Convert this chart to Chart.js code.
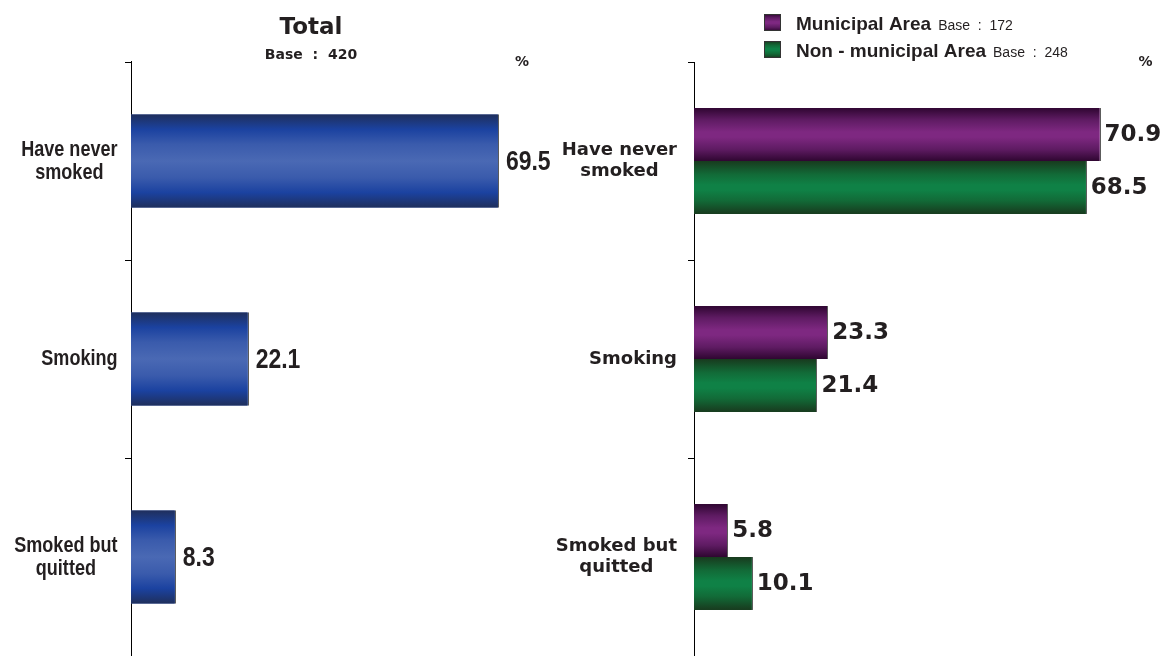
<!DOCTYPE html>
<html>
<head>
<meta charset="utf-8">
<script src="https://cdn.jsdelivr.net/npm/chart.js@4.4.0/dist/chart.umd.min.js"></script>
<style>
  html, body { margin: 0; padding: 0; background: #fff; }
  #wrap { position: relative; width: 1161px; height: 656px; overflow: hidden; }
  canvas { position: absolute; top: 0; }
  #totalChart { left: 0; }
  #areaChart { left: 540px; }
</style>
</head>
<body>
<div id="wrap">
  <canvas id="totalChart" width="622" height="656"></canvas>
  <canvas id="areaChart" width="621" height="656"></canvas>
</div>
<script>
const categories = [['Have never', 'smoked'], ['Smoking'], ['Smoked but', 'quitted']];
const totalValues = [69.5, 22.1, 8.3];
const municipalValues = [70.9, 23.3, 5.8];
const nonMunicipalValues = [68.5, 21.4, 10.1];
const totalBase = 420;
const municipalBase = 172;
const nonMunicipalBase = 248;
const totalMax = 93;
const areaMax = 80;

// bar shading, top edge -> bottom edge
const blueStops = [[0, '#1f2f5c'], [0.16, '#1b42a0'], [0.32, '#3a5bac'], [0.5, '#4a69b4'], [0.68, '#3a5bac'], [0.84, '#1b42a0'], [1, '#1f2f5c']];
const purpleStops = [[0, '#2f0631'], [0.22, '#5e1b62'], [0.45, '#7e2881'], [0.55, '#7e2881'], [0.78, '#5e1b62'], [1, '#2f0631']];
const greenStops = [[0, '#183a1e'], [0.25, '#126a37'], [0.45, '#0f8146'], [0.55, '#0f8146'], [0.75, '#126a37'], [1, '#183a1e']];

const textColor = '#231f20';
const arial = '"Liberation Sans", Arial, sans-serif';

function fillStops(ctx, top, bottom, stops) {
  const g = ctx.createLinearGradient(0, top, 0, bottom);
  stops.forEach(([o, c]) => g.addColorStop(o, c));
  return g;
}

// text squeezed horizontally (narrow face look)
function squeezedText(ctx, str, x, y, sx) {
  ctx.save();
  ctx.translate(x, y);
  ctx.scale(sx, 1);
  ctx.fillText(str, 0, 0);
  ctx.restore();
}

const surveyBars = {
  id: 'surveyBars',
  afterDatasetsDraw(chart, args, opts) {
    const ctx = chart.ctx;
    chart.data.datasets.forEach((ds, d) => {
      const meta = chart.getDatasetMeta(d);
      meta.data.forEach((bar, i) => {
        const p = bar.getProps(['x', 'y', 'base', 'height'], true);
        const top = p.y - p.height / 2;
        const bottom = p.y + p.height / 2;
        ctx.save();
        ctx.fillStyle = fillStops(ctx, top, bottom, ds.stops);
        ctx.fillRect(p.base, top, p.x - p.base, p.height);
        ctx.strokeStyle = '#5c5c5c';
        ctx.lineWidth = 1;
        ctx.beginPath();
        ctx.moveTo(Math.round(p.x) + 0.5, top);
        ctx.lineTo(Math.round(p.x) + 0.5, bottom);
        ctx.stroke();
        ctx.fillStyle = textColor;
        ctx.font = opts.valueFont;
        ctx.textAlign = 'left';
        ctx.textBaseline = 'middle';
        squeezedText(ctx, ds.data[i].toFixed(1), p.x + opts.valueGap, p.y + 1, opts.scaleX);
        ctx.restore();
      });
    });
  },
  afterDraw(chart, args, opts) {
    const ctx = chart.ctx;
    const yScale = chart.scales.y;
    ctx.save();
    ctx.fillStyle = textColor;
    ctx.textBaseline = 'middle';

    // category labels: lines centred on each other, block right-aligned to the axis
    ctx.font = opts.labelFont;
    ctx.textAlign = 'center';
    chart.data.labels.forEach((lines, i) => {
      const y = yScale.getPixelForTick(i);
      const w = Math.max(...lines.map(l => ctx.measureText(l).width)) * opts.scaleX;
      const cx = chart.chartArea.left - opts.labelGap - w / 2;
      const y0 = y - (lines.length - 1) * opts.labelLine / 2;
      lines.forEach((l, k) => squeezedText(ctx, l, cx, y0 + k * opts.labelLine, opts.scaleX));
    });

    // unit
    ctx.font = 'bold 14px "DejaVu Sans", sans-serif';
    ctx.fillText('%', opts.percent.x, opts.percent.y);

    // legend with base sizes
    if (opts.legend) {
      const lg = opts.legend;
      chart.data.datasets.forEach((ds, d) => {
        const top = lg.y + d * lg.row;
        ctx.fillStyle = fillStops(ctx, top, top + lg.box, ds.stops);
        ctx.fillRect(lg.x, top, lg.box, lg.box);
        ctx.strokeStyle = '#333';
        ctx.lineWidth = 1;
        ctx.strokeRect(lg.x + 0.5, top + 0.5, lg.box - 1, lg.box - 1);
        ctx.fillStyle = textColor;
        ctx.textAlign = 'left';
        ctx.textBaseline = 'alphabetic';
        ctx.font = 'bold 19px ' + arial;
        const tx = lg.x + lg.box + 15;
        ctx.fillText(ds.label, tx, top + 16);
        const w = ctx.measureText(ds.label).width;
        ctx.font = '14px ' + arial;
        ctx.fillText('Base  :  ' + ds.sampleBase, tx + w + 7, top + 16);
      });
    }
    ctx.restore();
  }
};

function yAxis(width) {
  return {
    type: 'category',
    grid: { display: true, drawOnChartArea: false, drawTicks: true, tickLength: 6, color: '#000', lineWidth: 1 },
    border: { display: true, color: '#000', width: 1 },
    ticks: { display: false },
    afterFit(scale) {
      scale.width = width;
      scale.paddingTop = 0;
      scale.paddingBottom = 0;
    }
  };
}

function xAxis(max) {
  return { type: 'linear', display: false, min: 0, max: max };
}

new Chart(document.getElementById('totalChart'), {
  type: 'bar',
  data: {
    labels: categories,
    datasets: [{
      label: 'Total',
      data: totalValues,
      stops: blueStops,
      backgroundColor: '#3a5bac',
      categoryPercentage: 0.47,
      barPercentage: 1
    }]
  },
  options: {
    indexAxis: 'y',
    responsive: false,
    animation: false,
    layout: { padding: 0 },
    scales: { x: xAxis(totalMax), y: yAxis(131) },
    plugins: {
      legend: { display: false },
      tooltip: { enabled: false },
      title: {
        display: true,
        text: 'Total',
        color: textColor,
        font: { family: '"DejaVu Sans", sans-serif', size: 23, weight: 'bold', lineHeight: 1.2 },
        padding: { top: 14, bottom: 1 }
      },
      subtitle: {
        display: true,
        text: 'Base  :  ' + totalBase,
        color: textColor,
        font: { family: '"DejaVu Sans", sans-serif', size: 14, weight: 'bold', lineHeight: 1 },
        padding: { top: 5.4, bottom: 0 }
      },
      surveyBars: {
        valueFont: 'bold 28px ' + arial,
        valueGap: 8,
        labelFont: 'bold 22px ' + arial,
        scaleX: 0.82,
        labelLine: 23,
        labelGap: 13.5,
        percent: { x: 522, y: 62 }
      }
    }
  },
  plugins: [surveyBars]
});

new Chart(document.getElementById('areaChart'), {
  type: 'bar',
  data: {
    labels: categories,
    datasets: [{
      label: 'Municipal Area',
      sampleBase: municipalBase,
      data: municipalValues,
      stops: purpleStops,
      backgroundColor: '#7e2881',
      categoryPercentage: 0.535,
      barPercentage: 1
    }, {
      label: 'Non - municipal Area',
      sampleBase: nonMunicipalBase,
      data: nonMunicipalValues,
      stops: greenStops,
      backgroundColor: '#0f8146',
      categoryPercentage: 0.535,
      barPercentage: 1
    }]
  },
  options: {
    indexAxis: 'y',
    responsive: false,
    animation: false,
    layout: { padding: { left: 0, right: 9.4, top: 62, bottom: 0 } },
    scales: { x: xAxis(areaMax), y: yAxis(154) },
    plugins: {
      legend: { display: false },
      tooltip: { enabled: false },
      surveyBars: {
        valueFont: 'bold 23px "DejaVu Sans", sans-serif',
        valueGap: 5,
        labelFont: 'bold 18px "DejaVu Sans", sans-serif',
        scaleX: 1,
        labelLine: 21,
        labelGap: 17,
        percent: { x: 605.5, y: 62 },
        legend: { x: 224, y: 14, row: 27, box: 17 }
      }
    }
  },
  plugins: [surveyBars]
});
</script>
</body>
</html>
